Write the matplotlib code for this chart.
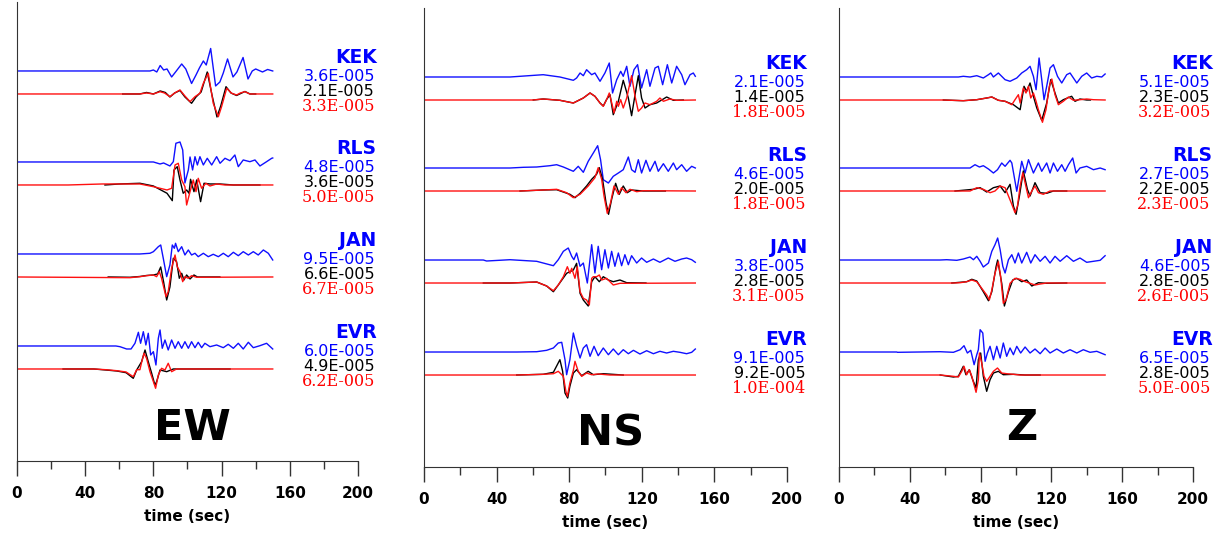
import matplotlib
matplotlib.use('Agg')
from matplotlib import pyplot as plt

stations = ['KEK', 'RLS', 'JAN', 'EVR']
components = ['EW', 'NS', 'Z']

# peak amplitudes written next to every station (blue, black, red)
ew_peak_blue = [3.6e-5, 4.8e-5, 9.5e-5, 6.0e-5]
ew_peak_black = [2.1e-5, 3.6e-5, 6.6e-5, 4.9e-5]
ew_peak_red = [3.3e-5, 5.0e-5, 6.7e-5, 6.2e-5]
ns_peak_blue = [2.1e-5, 4.6e-5, 3.8e-5, 9.1e-5]
ns_peak_black = [1.4e-5, 2.0e-5, 2.8e-5, 9.2e-5]
ns_peak_red = [1.8e-5, 1.8e-5, 3.1e-5, 1.0e-4]
z_peak_blue = [5.1e-5, 2.7e-5, 4.6e-5, 6.5e-5]
z_peak_black = [2.3e-5, 2.2e-5, 2.8e-5, 2.8e-5]
z_peak_red = [3.2e-5, 2.3e-5, 2.6e-5, 5.0e-5]

# waveforms: (time sec, trace amplitude) at the turning points
# ---- EW ----
ew_kek_blue = [(0, 0), (78, 0), (80, 1), (82, -1), (84, 5.5), (86, 1), (88, 2), (90.7, -6), (93, -1), (96.6, 7),
               (99, 2), (102.4, -12.5), (105, -4), (107, 3), (109.3, 10), (111, 6), (113.6, 22.5), (116.5, -15),
               (119, -11), (121, -2), (123.5, 12), (126.7, -6), (129, -1), (132.6, 13.5), (135.5, -8), (138, 0),
               (140, 2), (144, -1), (147, 1.5), (150, 0)]
ew_kek_black = [(62, 0), (72, 0), (76, 1.5), (80, 0), (84, 3), (87, 1.5), (89.7, -3), (92.5, 1), (95.6, 3.5),
                (98.5, -3), (102.4, -9.3), (105, -3), (108, 2), (111.6, 22), (114.5, -2), (117.3, -23), (119.5, -12),
                (122.6, 7.3), (125.5, 1), (128.8, -1.5), (133.7, 2.5), (136.6, 0), (140, 0)]
ew_kek_red = [(0, 0), (72, 0), (76, 1), (80, 0), (83.9, 2.3), (86.5, 1), (89.7, -2.7), (92.5, 1), (95.6, 4),
              (98.5, -2), (101.5, -7.7), (104.4, -2.7), (107.3, 0.7), (109.3, 10.7), (112.2, 20.7), (115.1, -9.3),
              (118.1, -22.7), (120, -12.7), (123, 5.7), (125.9, 0.7), (128.8, -1), (131, 1), (133.7, 2.3),
              (136.6, 0), (150, 0)]
ew_rls_blue = [(0, 0), (80, 0), (83.9, -2), (86, -1), (89.7, -4), (91.7, 0.3), (93.2, 18.7), (95.6, 20), (97.2, 12),
               (98.5, -21), (100.5, -8), (101.5, 5), (103, -8), (104.4, 5.3), (105.8, -3), (107.3, 5.3), (109.3, -3),
               (111.6, 3.7), (114.2, -3), (117.1, 5.3), (119.1, -1.3), (122, 3.7), (124.9, 1.3), (127.8, 7),
               (129.8, -4.7), (132.7, 2), (136.6, 0.3), (139.6, 2), (142.5, -4), (146.4, 0.3), (149.4, 3.7), (150, 4)]
ew_rls_black = [(51.6, 0), (60, 1), (72.1, 1.7), (80, -1), (88, -8.3), (91.1, -15.7), (92.1, 15), (94, 18.3),
                (95.6, 5), (97.5, -8.3), (99.5, -5), (100.9, -8.3), (101.8, 5.7), (103.8, -6.7), (105.4, 5),
                (107.7, -16.7), (109.7, 1.7), (113.2, 1), (119, 1), (126.9, 0), (142.5, 0)]
ew_rls_red = [(0, 0), (30, 0), (50, 1), (72.1, 1), (80, -1.7), (88, -5), (90.7, -3.3), (92.7, 20), (94.6, 21.7),
              (96.6, 5), (98.5, -1.7), (99.5, -20), (101.5, -6.7), (103.4, 5), (105, -6.7), (106.3, 6.7),
              (108.3, -3.3), (110.8, 1.7), (113.2, -1), (117.1, 1), (122, 0), (150, 0)]
ew_jan_blue = [(0, 0), (72, 0), (78, 0.7), (80, 2.3), (82.9, 7.3), (84.3, 9), (85.8, -4.3), (87.8, -22.7),
               (89.7, -11), (91.1, 9), (92.3, 5.7), (93, 10.7), (94.6, 2.3), (96.6, 7.3), (98.5, -1), (100.5, 4),
               (102.4, -1), (104.4, 0.7), (106.3, -2.7), (109.3, 0.7), (112.2, -2.7), (115.1, -0.3), (118.1, -2.7),
               (121, 0.7), (123.9, -2.7), (126.9, 1.7), (129.8, -1.7), (132.7, 2.3), (135.7, -1), (138.6, 2.3),
               (141.5, -1), (144.5, 4), (147.4, 0.7), (150, -6)]
ew_jan_black = [(53.5, 0), (66.3, -0.3), (72.1, 0.5), (76, 1.5), (80, 2), (82.5, 3), (84.3, 10), (86, -5),
                (87.8, -23), (89.7, -10), (91.7, 18.7), (93.6, 15.3), (95.2, -1.3), (96.6, 3.7), (97.9, -3),
                (99.5, 2), (101.5, -2), (103.8, 2), (105.8, 0), (119, 0)]
ew_jan_red = [(0, 0), (66.3, -0.7), (72.1, 0.3), (76, 1.3), (80, 2), (81.9, 0.3), (83.5, 5.3), (84.8, -1.3),
              (86.2, -11.3), (87.4, -19.7), (88.7, -14.7), (90.7, 8.7), (92.7, 22), (94, 10.3), (95.6, 5.3),
              (97.2, -4.7), (98.5, 0.3), (100.5, -1.3), (102.4, 1.3), (105.4, -0.3), (150, 0)]
ew_evr_blue = [(0, 0), (58, 0), (60.4, -0.7), (64.3, -3), (66.9, -3), (69.2, 2.7), (71.2, 13.7), (72.5, 2.7),
               (74.1, 14.3), (75.6, 1), (77, 12.7), (78.4, -9), (80, -5.7), (81.5, -19), (82.9, 7.7), (83.9, 16),
               (85.2, -2.3), (86.8, 6), (88.7, -4), (90.7, 6), (92.7, -2.3), (94.6, 4.3), (96.6, -2.3), (98.5, 4.3),
               (100.5, -2.3), (102.4, 4.3), (104.4, -1.7), (106.3, 3.7), (108.3, -1.7), (110.2, 2.7), (113.2, -0.7),
               (117.1, 1), (121, -1.7), (123.9, 1.7), (126.9, -2.3), (129.8, 2.7), (132.7, -3), (135.7, 3.7),
               (138.6, -1.7), (142.5, 0.3), (146.4, 2.7), (150, -3)]
ew_evr_black = [(27, 0), (45, 0), (52, -1), (58.5, -2), (64, -3.7), (68.2, -9.3), (70.2, -1), (73.1, 7.3),
                (75.1, 19), (77, 7.3), (79, -4.3), (80.9, -16), (81.9, -12.7), (83.9, -1), (87.8, -2.7), (91.7, 0),
                (125, 0)]
ew_evr_red = [(0, 0), (45, 0), (52, -0.7), (58.5, -1.7), (64, -3), (68.2, -7.7), (70.2, -0.7), (72.1, -0.7),
              (73.1, 6.7), (74.5, 15.7), (76, 10.7), (78, -2.7), (80, -12.7), (81.3, -19.3), (82.9, -6),
              (84.8, 0.7), (86.8, -1), (88.7, 5.7), (90.7, -2.7), (93.6, 0), (150, 0)]
# ---- NS ----
ns_kek_blue = [(0, 0), (47.4, 0), (65.7, 2.3), (74.9, 0), (82.3, -3.3), (84.1, -1), (86, 4), (87.8, 1.3), (89.6, 7.3),
               (92.4, 2.3), (94.2, 4), (97, -4.3), (99.7, 4), (102.1, 14), (103.9, -16), (106.2, -2.7), (108.4, 5.7),
               (109.8, 0.7), (111.7, 10.7), (113.5, -9.3), (115.7, 7.3), (117.7, 12.3), (119.9, -11), (122.7, 7.3),
               (124.5, -9.3), (127.3, 9), (129.1, 10.7), (131.5, -7.7), (134.1, 12.3), (136.5, -6), (139.2, 10.7),
               (142, 2.3), (143.8, -7.7), (146.6, 2.3), (148.4, 4), (149.5, 0.7)]
ns_kek_black = [(60.2, 0), (65.7, 1), (74.9, -0.3), (82.3, -3), (87.8, 2), (91.5, 7), (94.2, 3.7), (97, -3),
                (98.8, -6), (100.6, 0.5), (102.5, 5.3), (104.3, -14.7), (107.1, -1.3), (109.8, 19.7), (112.6, 2),
                (114.4, -15.7), (116.3, 5.3), (118.1, 24.3), (119.9, 2), (121.8, -8), (124.5, -4.7), (128.2, -3),
                (131.9, 1), (133.7, 3), (137.4, -0.3), (142.9, 0)]
ns_kek_red = [(0, 0), (60, 0), (65.7, 1), (74.9, -0.3), (82.3, -3), (87.8, 2), (91.5, 7), (94.2, 3.7), (97, -3),
              (98.8, -6.3), (100.6, 0.3), (102.1, 7), (103.9, -6.3), (104.7, -13), (106.2, -1.3), (107.1, -6.3),
              (108.4, 0.3), (109.8, -8), (111.7, 2), (113.1, 13.7), (114.4, 24.3), (116.3, 3.7), (118.1, -11.3),
              (119.9, -8), (121.8, -3), (124.5, -4.7), (128.2, -1.3), (130, 2), (131.9, -1.3), (135.5, 1),
              (139.2, -0.3), (149.5, 0)]
ns_rls_blue = [(0, 0), (47.4, 0), (54.8, 0.7), (62.1, 1), (69.4, 2.3), (73.1, 3.3), (76.8, 1), (82.3, -3.3),
               (85, 1.7), (87.8, -4.3), (90.5, 6.7), (93.3, 15), (95.7, 22.3), (97.3, 8.3), (98.8, -11.7),
               (101.6, -15), (104.3, -8.3), (107.1, -5), (109.8, -1.7), (112.6, 11), (114.4, -1.7), (116.3, -4.3),
               (118.1, 8.3), (119.9, -5), (122.3, 7.7), (124.5, -3.3), (127.3, 6.7), (129.1, -3.3), (131.9, 4.3),
               (134.6, -3.3), (137.4, 5), (139.2, -1.7), (142, 3.3), (144.7, -3.3), (147.5, 1.7), (149.5, 0)]
ns_rls_black = [(52.9, 0), (65.7, 1), (73.1, 1.3), (80.4, -3.3), (83.2, -6.7), (86, -2.3), (89.6, 5), (92.4, 11.7),
                (95.1, 16.7), (96.6, 23.3), (98.4, 11.7), (100.3, -11.7), (101.7, -23.3), (103.4, -8.3), (105.6, 7.7),
                (107.6, -3.3), (109.8, 5), (112, -1.7), (114.4, 1), (120.8, 0), (133, 0)]
ns_rls_red = [(0, 0), (52.9, 0), (65.7, 1), (73.1, 1.7), (78.6, -1.7), (82.3, -6.7), (86, -3.3), (90.5, 5),
              (94.2, 13.3), (96, 23.3), (97.9, 11.7), (99.2, -5), (101, -22.3), (102.8, -11.7), (104.7, 5),
              (107.1, -3.3), (108.9, 3.3), (111.3, -1.7), (113.5, 1.7), (117.2, -0.7), (120.8, 0.3), (149.5, 0)]
ns_jan_blue = [(0, 0), (32.7, 0), (34.5, -1), (47.4, 0.3), (62.1, -1.3), (71.3, -5.7), (74, 0.3), (76.8, 8.7),
               (79.5, 12), (81.4, 3.7), (82.6, 0.3), (84.1, 7), (86, -6.3), (87.8, -3), (90, -23), (92.4, 15.3),
               (94.2, -13), (96, 13.7), (97.9, -9.7), (99.7, 10.3), (101.6, -8), (103.4, 8.7), (105.2, -6.3),
               (107.1, 7), (108.9, -5.7), (110.7, 5.3), (112.6, -4.7), (114.4, 4.3), (117.2, -3), (119.9, 2),
               (122.7, -2.3), (126.4, 1), (130, -2.3), (134.6, 2), (138.3, -1.3), (142, 1), (144.7, 2),
               (147.5, 0.3), (149.5, -2.3)]
ns_jan_black = [(32.7, 0), (47.4, 0), (62.1, 1), (67.6, -3), (71.3, -8.7), (74, -2), (78.6, 9.7), (82.3, 13),
                (84.1, 19.7), (86, -10.3), (87.8, -17), (90.5, -23), (92.4, 1.3), (94.2, 6.3), (96.6, 1.3),
                (98.8, 6.3), (101.6, 3), (104.3, 1.3), (108, 3), (111.7, 0.3), (122.3, 0)]
ns_jan_red = [(0, 0), (32.7, 0), (47.4, 0), (62.1, 1), (67.6, -3), (71.3, -7.7), (74, -2), (76.8, 6.3), (79, 16.3),
              (80.4, 9.7), (81.4, 14.7), (83.2, 4.7), (84.5, 16.3), (86, -8.7), (87.8, -15.3), (89.6, -17),
              (91.1, -22), (92.4, 4.7), (93.3, 6.3), (95.1, 6.3), (96.6, 8), (97.9, 3), (100.6, 4.7), (104.3, -2),
              (108, -0.3), (111.7, -0.3), (149.5, 0)]
ns_evr_blue = [(0, 0), (25, 0), (51.1, 0), (62.1, 0.3), (67.6, 1.7), (71.3, 4), (74, 9), (75.9, 9.7), (77.7, -7.7),
               (78.6, -22.7), (80.4, -7.7), (82.3, 19), (84.1, 5.7), (86, -6), (87.8, 4), (89.6, 7.3), (91.5, -4.3),
               (93.7, 5.7), (96, -3.7), (98.8, 4), (101.6, -2.7), (104.3, 3), (107.1, -2.7), (109.8, 2.3),
               (112.6, -1.7), (115.4, 1.7), (119, -2), (122.7, 1.3), (126.4, -1.7), (130, 0.7), (133.7, -1),
               (137.4, 0.7), (141, -0.3), (144.7, -1.7), (147.5, -0.3), (149.5, 3)]
ns_evr_black = [(51.1, 0), (65.7, 0.7), (71.3, 2.7), (74.9, 15.3), (76.4, 3.7), (77.7, -18), (79.2, -23),
                (80.4, -11.3), (82.3, 2), (84.1, 5.3), (86.9, -0.7), (90.5, 3.7), (93.3, 0.3), (98.8, 1.3),
                (109.8, 0)]
ns_evr_red = [(0, 0), (51.1, 0), (65.7, 0.7), (71.3, 1.3), (74, 3.7), (76.8, -1.3), (78.2, -16.3), (79, -21.3),
              (80.4, -8), (82.3, 4.7), (83.2, 13.7), (85, 3.7), (86.9, -1.3), (89.6, 2), (92.4, 0.3), (96, 1),
              (102.5, 0), (149.5, 0)]
# ---- Z ----
z_kek_blue = [(0, 0), (67.4, 0), (70.2, 0.7), (74, 0), (77.8, 1.3), (81.5, -1), (84.4, 2.3), (85.7, 4), (87.2, 0),
              (90, 4), (93.8, -2.7), (96.6, -4.3), (100.4, -1), (103.2, 4), (106, 7.3), (107.9, 10.7), (109.8, 0.7),
              (111.3, -12.7), (113, 19), (114.5, -2.7), (115.8, -22.7), (117.3, -9.3), (119.2, 9), (121.1, 12.3),
              (123.4, 0.7), (125.8, -6), (128.6, 2.3), (130.5, 4), (134.3, -6), (137.1, 0.7), (139.9, 4),
              (142.7, -1), (145.6, 0.7), (148.4, 0), (150.3, 3)]
z_kek_black = [(58.9, 0), (70.2, -0.7), (77.8, 0.3), (83.4, 2), (86.3, 3), (90, -0.3), (93.8, -1.3), (98.5, -4.7),
               (102.3, -9.7), (104.5, 13.7), (106, 8.7), (107.9, 17), (109.8, 3.7), (111.7, -8), (114.5, -20.3),
               (117.3, -3), (119.6, 20.3), (122, 7), (123.9, -3), (126.7, 0.3), (131.4, 3.7), (133.3, -1.3),
               (136.1, 1), (139.9, 0), (142, 0)]
z_kek_red = [(0, 0), (58.9, 0), (70.2, -0.7), (77.8, 0.3), (83.4, 2), (86.3, 3), (90, -0.3), (93.8, -1.3),
             (97.6, -4.7), (99.4, 0.3), (101.3, 5.3), (102.3, -3), (104.1, 12), (105.6, 7), (107, 13.7), (108.3, 2),
             (109.8, 7), (111.3, -1.3), (112.6, -9.7), (114.9, -22.3), (116.9, -9.7), (118.8, 13.7), (120.2, 21),
             (122, 5.3), (123.9, -4.7), (126.7, -1.3), (129.6, 3), (132.4, -0.3), (136.1, 0.3), (139.9, 1),
             (143.7, 0.3), (150.3, 0)]
z_rls_blue = [(0, 0), (68.4, 0), (74, 0), (76.8, 3.3), (79.3, 1), (81.5, 2.3), (84.4, -1), (87.2, -5), (89.5, -1.7),
              (91.9, 5), (93.8, 1.7), (96.6, 7.7), (97.6, 5), (100.4, -23.3), (103.2, 6.7), (105.1, -5), (107, 8.3),
              (109.8, -5), (112.6, 5), (114.5, -3.3), (117.3, 5), (119.2, -5), (121.1, 5), (123.4, -3.3),
              (125.8, 3.3), (127.7, -3.3), (129.6, 3.3), (132, 10), (133.9, -5), (136.1, 0), (139.9, 1.7),
              (143.7, -1.7), (147.5, 0), (150.3, -1.7)]
z_rls_black = [(65.5, 0), (75.9, 1.7), (79.7, 3.3), (83.4, -1), (87.2, 3.3), (91, 5), (93.8, -1.7), (96.6, 6.7),
               (98.5, -15), (100, -23.3), (101.9, -5), (104.1, 20), (106.4, 1.7), (107.9, -5), (110.7, 8.3),
               (113.6, -1.7), (117.3, -2.3), (121.1, 0), (128.6, 0)]
z_rls_red = [(0, 0), (66.5, 0), (74, 0), (77.8, 3.3), (81.5, 1.7), (85.3, -1.7), (88.1, 0), (91, 5), (93.8, 3.3),
             (95.7, -5), (97.6, -13.3), (99.4, -21.7), (100.8, -15), (102.3, 5), (103.8, 18.3), (105.5, 5),
             (107, -6.7), (108.9, 0), (110.7, 5), (112.6, -1.7), (115.4, -3.3), (119.2, 0), (124.9, 0), (150.3, 0)]
z_jan_blue = [(0, 0), (57.1, 0), (60.8, 0.3), (66.5, -0.3), (70.2, 1), (74, 3), (75.9, 0.3), (77.8, 3.7),
              (79.7, -1.3), (81.5, -7), (84.4, -3), (86.3, 8.7), (88.1, 15.3), (89.6, 22), (91, 10.3), (92.5, -6.3),
              (93.8, -13), (95.7, 0.3), (97.6, 5.3), (99.4, -3), (101.3, 7), (103.2, -3), (106, 7.7), (108.3, -3),
              (110.7, 5.3), (113.6, -1.3), (116.4, 3.7), (119.2, -3), (122, 3.7), (124.9, -1.3), (128.6, 4.3),
              (132.4, -1.3), (136.1, 2), (139.9, -2.3), (143.7, -1.3), (147.5, -0.3), (150.3, 4.3)]
z_jan_black = [(63.7, 0), (72.1, 1.3), (75, 3.7), (77.8, 2), (81.5, -8.7), (84.4, -17.7), (86.3, -8.7),
               (88.7, 16.3), (89.6, 23), (91.9, -0.3), (93.4, -23), (95.7, -8.7), (98.1, 3), (100.4, 4.7),
               (103.2, 1.3), (106, 3), (108.9, -3), (112.6, 0.3), (117.3, -0.3), (128.6, 0)]
z_jan_red = [(0, 0), (64.6, 0), (68.4, 0.3), (72.1, 1.3), (75, 3), (77.8, 1.3), (80.6, -5.3), (83.4, -12),
             (84.9, -17), (86.3, -7), (88.1, 9.7), (90, 21.3), (91.3, 6.3), (92.8, -20.3), (94.3, -17), (96.6, -0.3),
             (99.4, 4.7), (102.3, 3.7), (105.1, 1.3), (107.9, -0.3), (110.7, -2), (113.6, -1), (117.3, 0),
             (150.3, 0)]
z_evr_blue = [(0, 0), (32.6, 0), (33, -0.3), (57.1, 0.3), (64.6, -0.3), (68.4, 2.3), (70.6, 6.3), (72.5, -1),
              (74.4, 1.7), (76.3, -12.7), (77.8, -2.7), (78.7, 2.3), (79.7, 22.3), (81.2, 19), (82.5, -9.3),
              (83.8, -1), (85.3, 5.7), (87.2, -7.7), (89.1, 5.7), (91, -6), (92.8, 9), (94.7, -4.3), (96.6, 4),
              (98.5, -2.7), (100.4, 5.7), (102.6, -1), (105.1, 5), (107.9, -1), (110.7, 3), (113.6, -1.7),
              (116.4, 4), (119.2, -1), (123, 3), (126.7, -1), (130.5, 2.3), (134.3, -1), (138, 2.3), (141.8, -0.3),
              (145.6, 0.7), (150.3, -2.7)]
z_evr_black = [(57.1, 0), (64.6, -2), (67.4, -1.3), (70.2, 8.7), (71.7, 0.3), (73.6, 5.3), (75.5, -4.7),
               (77.4, -13), (78.7, 15.3), (80, 22), (81.5, -1.3), (83.4, -16.3), (85.3, -4.7), (87.2, 2), (90, 3.7),
               (92.8, 0.3), (98.5, 0.7), (105.1, 0), (113.6, 0)]
z_evr_red = [(0, 0), (57.1, 0), (64.6, -1.3), (67.4, -2), (69.3, 3.7), (70.6, 8.7), (72.1, 0.3), (73.6, 5.3),
             (75, -1.3), (77.4, -17.3), (78.7, -4.7), (79.3, 22), (80.6, 12), (81.9, -1.3), (83.4, -6.3),
             (85.3, -1.3), (87.2, 3.7), (89.5, 7), (91.9, 2), (94.7, 1.3), (98.5, 0.7), (102.3, 0), (150.3, 0)]

traces = {
    'EW': [(ew_kek_blue, ew_kek_black, ew_kek_red), (ew_rls_blue, ew_rls_black, ew_rls_red),
           (ew_jan_blue, ew_jan_black, ew_jan_red), (ew_evr_blue, ew_evr_black, ew_evr_red)],
    'NS': [(ns_kek_blue, ns_kek_black, ns_kek_red), (ns_rls_blue, ns_rls_black, ns_rls_red),
           (ns_jan_blue, ns_jan_black, ns_jan_red), (ns_evr_blue, ns_evr_black, ns_evr_red)],
    'Z': [(z_kek_blue, z_kek_black, z_kek_red), (z_rls_blue, z_rls_black, z_rls_red),
          (z_jan_blue, z_jan_black, z_jan_red), (z_evr_blue, z_evr_black, z_evr_red)],
}
peaks = {
    'EW': (ew_peak_blue, ew_peak_black, ew_peak_red),
    'NS': (ns_peak_blue, ns_peak_black, ns_peak_red),
    'Z': (z_peak_blue, z_peak_black, z_peak_red),
}


def fmt(v):
    # 3.6E-005 style, three digit exponent
    m, e = f"{v:.1E}".split('E')
    return f"{m}E{int(e):04d}"


fig = plt.figure(figsize=(12.31, 5.33), dpi=100)

boxes = {'EW': [0.0138, 0.1351, 0.2770, 0.8612],
         'NS': [0.3444, 0.1238, 0.2949, 0.8612],
         'Z': [0.6816, 0.1238, 0.2876, 0.8612]}
letter_y = {'EW': 33, 'NS': 34, 'Z': 39}
base_y = [390, 299, 207, 115]   # baseline of the blue trace of each station
shift = 23                      # black/red traces sit below the blue one

for comp in components:
    ax = fig.add_axes(boxes[comp])
    pb, pk, pr = peaks[comp]
    for i, st in enumerate(stations):
        blue, black, red = traces[comp][i]
        y0 = base_y[i]
        ax.plot([p[0] for p in blue], [y0 + p[1] for p in blue], color='#1010ff', lw=1.0)
        ax.plot([p[0] for p in black], [y0 - shift + p[1] for p in black], color='black', lw=1.0)
        ax.plot([p[0] for p in red], [y0 - shift + p[1] for p in red], color='#ff1010', lw=1.0)

        ax.text(211, y0 + 13, st, color='#0000ff', fontsize=13.5, fontweight='bold',
                ha='right', va='center')
        ax.text(210, y0 - 6, fmt(pb[i]), color='#0000ff', fontsize=11.5, ha='right', va='center')
        ax.text(210, y0 - 21, fmt(pk[i]), color='black', fontsize=11.5, ha='right', va='center')
        ax.text(210, y0 - 36, fmt(pr[i]), color='#ff0000', fontsize=11.5, family='DejaVu Serif',
                ha='right', va='center')

    ax.text(103, letter_y[comp], comp, fontsize=31, fontweight='bold', ha='center', va='center')

    ax.set_xlim(0, 200)
    ax.set_ylim(0, 459)
    ax.set_xticks(range(0, 201, 40))
    ax.set_xticks(range(20, 200, 40), minor=True)
    ax.set_yticks([])
    ax.spines['top'].set_visible(False)
    ax.spines['right'].set_visible(False)
    ax.spines['left'].set_color('#333333')
    ax.spines['bottom'].set_color('#333333')
    ax.tick_params(axis='x', which='major', length=11, width=1, color='#333333', pad=7)
    ax.tick_params(axis='x', which='minor', length=6, width=1, color='#333333')
    for lab in ax.get_xticklabels():
        lab.set_fontweight('bold')
        lab.set_fontsize(11)
    ax.set_xlabel('time (sec)', fontsize=11, fontweight='bold', labelpad=6)
    ax.patch.set_visible(False)

fig.savefig('out.png', dpi=100)
